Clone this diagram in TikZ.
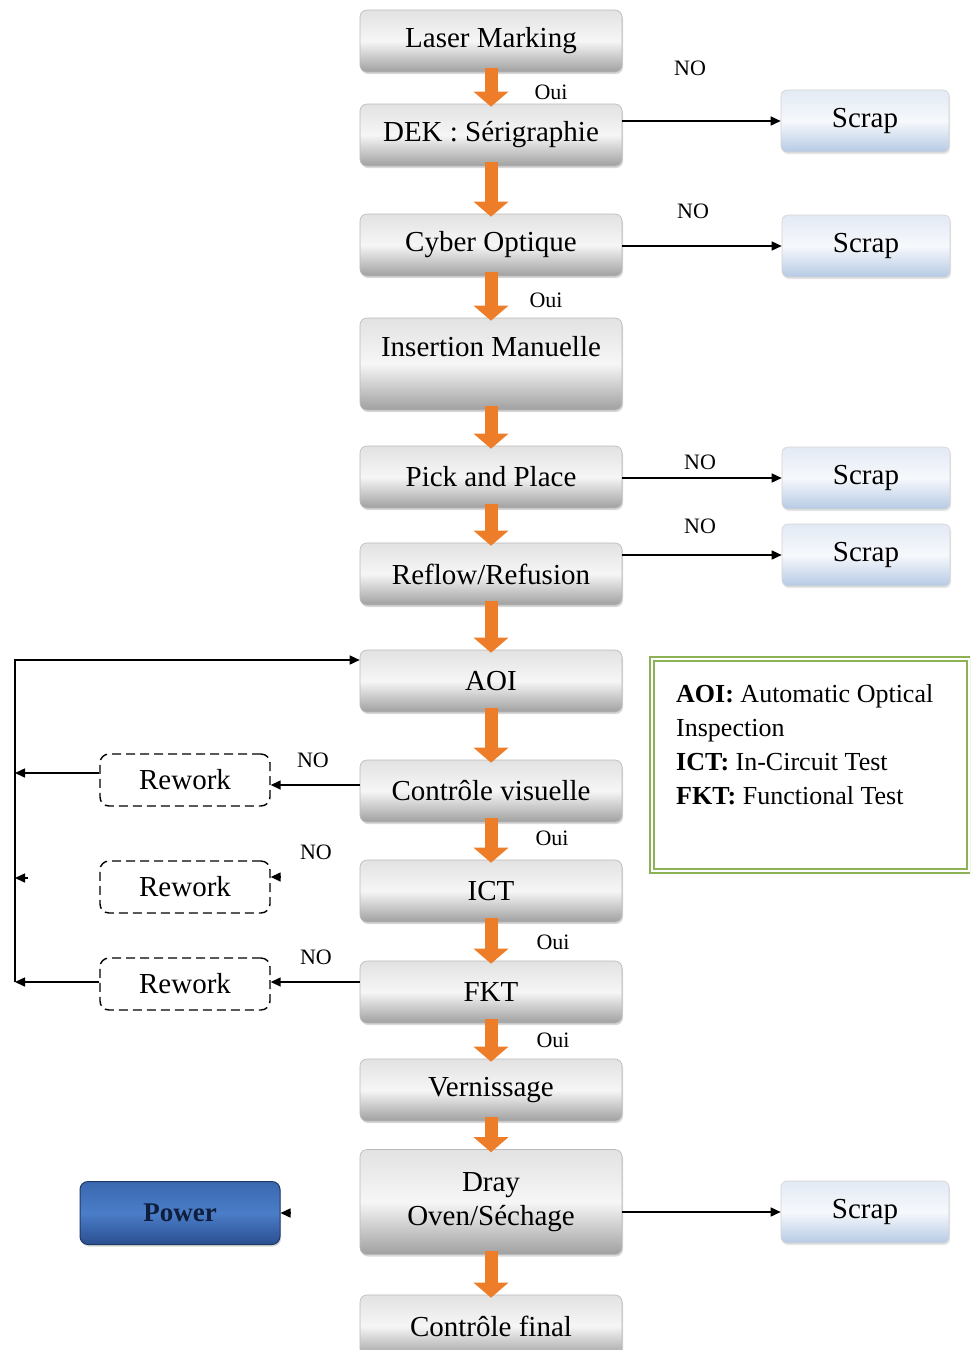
\documentclass[tikz,border=0pt]{standalone}
\usepackage{fontspec}
\setmainfont{Liberation Serif}
\usetikzlibrary{arrows.meta,shadows,calc}

\definecolor{boxtop}{HTML}{E2E2E2}
\definecolor{boxmid}{HTML}{F6F6F6}
\definecolor{boxbot}{HTML}{A0A0A0}
\definecolor{scraptop}{HTML}{E3EAF4}
\definecolor{scrapmid}{HTML}{F6F8FC}
\definecolor{scrapbot}{HTML}{B6CAE4}
\definecolor{flowor}{HTML}{EE7D2A}
\definecolor{powtop}{HTML}{3A68B0}
\definecolor{powmid}{HTML}{4B7DC8}
\definecolor{powbot}{HTML}{2A4F90}
\definecolor{powline}{HTML}{1F3A66}
\definecolor{powtext}{HTML}{0E1E3C}
\definecolor{leggreen}{HTML}{8DB255}

\newcommand\bigfs{\fontsize{29}{34}\selectfont}
\newcommand\legfs{\fontsize{26}{34}\selectfont}
\newcommand\tagfs{\fontsize{22}{24}\selectfont}

\tikzset{
  stage/.style={rectangle, rounded corners=7pt, minimum width=262pt,
    minimum height=62pt, draw=gray!55, line width=0.6pt,
    top color=boxtop, bottom color=boxbot, middle color=boxmid,
    font=\bigfs, inner sep=0pt, align=center,
    drop shadow={shadow xshift=1pt, shadow yshift=-2pt, opacity=.3}},
  scrapbox/.style={rectangle, rounded corners=6pt, minimum width=168pt,
    minimum height=62pt, draw=gray!35, line width=0.6pt,
    top color=scraptop, bottom color=scrapbot, middle color=scrapmid,
    font=\bigfs, inner sep=0pt,
    drop shadow={shadow xshift=1pt, shadow yshift=-2pt, opacity=.2}},
  reworkbox/.style={rectangle, draw=black, dash pattern=on 9pt off 5pt,
    line width=1.4pt, rounded corners=9pt, minimum width=170pt,
    minimum height=52pt, font=\bigfs, inner sep=0pt},
  powerbox/.style={rectangle, rounded corners=8pt, minimum width=200pt,
    minimum height=63pt, draw=powline, line width=1pt,
    top color=powtop, bottom color=powbot, middle color=powmid,
    font=\fontsize{27}{30}\selectfont\bfseries, text=powtext,
    drop shadow={shadow xshift=1pt, shadow yshift=-2pt, opacity=.3}},
  legendbox/.style={rectangle, draw=leggreen, line width=1.6pt,
    double=white, double distance=2.2pt, inner sep=0pt},
  flow/.style={draw=flowor, line width=13pt,
    -{Triangle[width=34pt,length=15pt]}, shorten <=-4pt, shorten >=-3pt},
  conn/.style={draw=black, line width=1.5pt,
    -{Triangle[width=9pt,length=10pt]}},
  tag/.style={font=\tagfs, inner sep=0pt},
}

\begin{document}
\begin{tikzpicture}[x=1pt,y=-1pt]
\clip (0,0) rectangle (970,1350);
\fill[white] (0,0) rectangle (970,1350);

% main process column
\node[stage] (laser)  at (491,41)   {Laser Marking};
\node[stage] (dek)    at (491,135)  {DEK : Sérigraphie};
\node[stage] (cyber)  at (491,245)  {Cyber Optique};
\node[stage, minimum height=92pt,
      label={[font=\bigfs, anchor=north, yshift=-15pt]north:Insertion Manuelle}]
      (ins)    at (491,364)  {};
\node[stage] (pick)   at (491,477)  {Pick and Place};
\node[stage] (reflow) at (491,574)  {Reflow/Refusion};
\node[stage] (aoi)    at (491,681)  {AOI};
\node[stage] (cv)     at (491,791)  {Contrôle visuelle};
\node[stage] (ict)    at (491,891)  {ICT};
\node[stage] (fkt)    at (491,992)  {FKT};
\node[stage] (vern)   at (491,1090) {Vernissage};
\node[stage, minimum height=105pt] (dray) at (491,1202) {Dray\\Oven/Séchage};
\node[stage] (final)  at (491,1326) {Contrôle final};

% scrap exits
\node[scrapbox] (sc1) at (865,121)  {Scrap};
\node[scrapbox] (sc2) at (866,246)  {Scrap};
\node[scrapbox] (sc3) at (866,478)  {Scrap};
\node[scrapbox] (sc4) at (866,555)  {Scrap};
\node[scrapbox] (sc5) at (865,1212) {Scrap};

% rework stations
\node[reworkbox] (rw1) at (185,780) {Rework};
\node[reworkbox] (rw2) at (185,887) {Rework};
\node[reworkbox] (rw3) at (185,984) {Rework};

\node[powerbox] (pw) at (180,1213) {Power};

% legend
\node[legendbox, anchor=north west, minimum width=317pt, minimum height=212pt]
  (leg) at (651,658) {};
\node[anchor=north west, font=\legfs, align=left, inner sep=0pt] (legtxt)
  at (676,684) {\textbf{AOI:} Automatic Optical\\Inspection\\
  \textbf{ICT:} In-Circuit Test\\\textbf{FKT:} Functional Test};

% orange flow arrows
\foreach \a/\b in {laser/dek, dek/cyber, cyber/ins, ins/pick, pick/reflow,
  reflow/aoi, aoi/cv, cv/ict, ict/fkt, fkt/vern, vern/dray, dray/final}
  \draw[flow] (\a.south) -- (\b.north);

% rejects to scrap
\draw[conn] (dek.east |- sc1) -- (sc1.west);
\draw[conn] (cyber.east |- sc2) -- (sc2.west);
\draw[conn] (pick.east |- sc3) -- (sc3.west);
\draw[conn] (reflow.east |- sc4) -- (sc4.west);
\draw[conn] (dray.east |- sc5) -- (sc5.west);

% rework loop back to AOI
\coordinate (lt) at (15,660);
\coordinate (lb) at (15,982);
\draw[conn] (lb) -- (lt) -- (lt -| aoi.west);

\coordinate (c1) at ($(cv.west)+(0,-6)$);
\draw[conn] (c1) -- (c1 -| rw1.east);
\coordinate (r1) at ($(rw1.west)+(0,-7)$);
\draw[conn] (r1) -- (r1 -| lt);

\coordinate (r2s) at ($(rw2.east)+(9,-10)$);
\draw[conn] (r2s) -- (r2s -| rw2.east);
\coordinate (r2l) at (28,878);
\draw[conn] (r2l) -- (r2l -| lt);

\coordinate (f3) at (fkt.west |- lb);
\draw[conn] (f3) -- (f3 -| rw3.east);
\coordinate (r3) at (rw3.west |- lb);
\draw[conn] (r3) -- (lb);

\coordinate (ps) at ($(pw.east)+(9,0)$);
\draw[conn] (ps) -- (pw.east);

% decision labels
\node[tag] (no1) at (690,68)  {NO};
\node[tag] (no2) at (693,211) {NO};
\node[tag] (no3) at (700,462) {NO};
\node[tag] (no4) at (700,526) {NO};
\node[tag] (no5) at (313,760) {NO};
\node[tag] (no6) at (316,852) {NO};
\node[tag] (no7) at (316,957) {NO};

\node[tag] (oui1) at (551,92)   {Oui};
\node[tag] (oui2) at (546,300)  {Oui};
\node[tag] (oui3) at (552,838)  {Oui};
\node[tag] (oui4) at (553,942)  {Oui};
\node[tag] (oui5) at (553,1040) {Oui};
\end{tikzpicture}
\end{document}
